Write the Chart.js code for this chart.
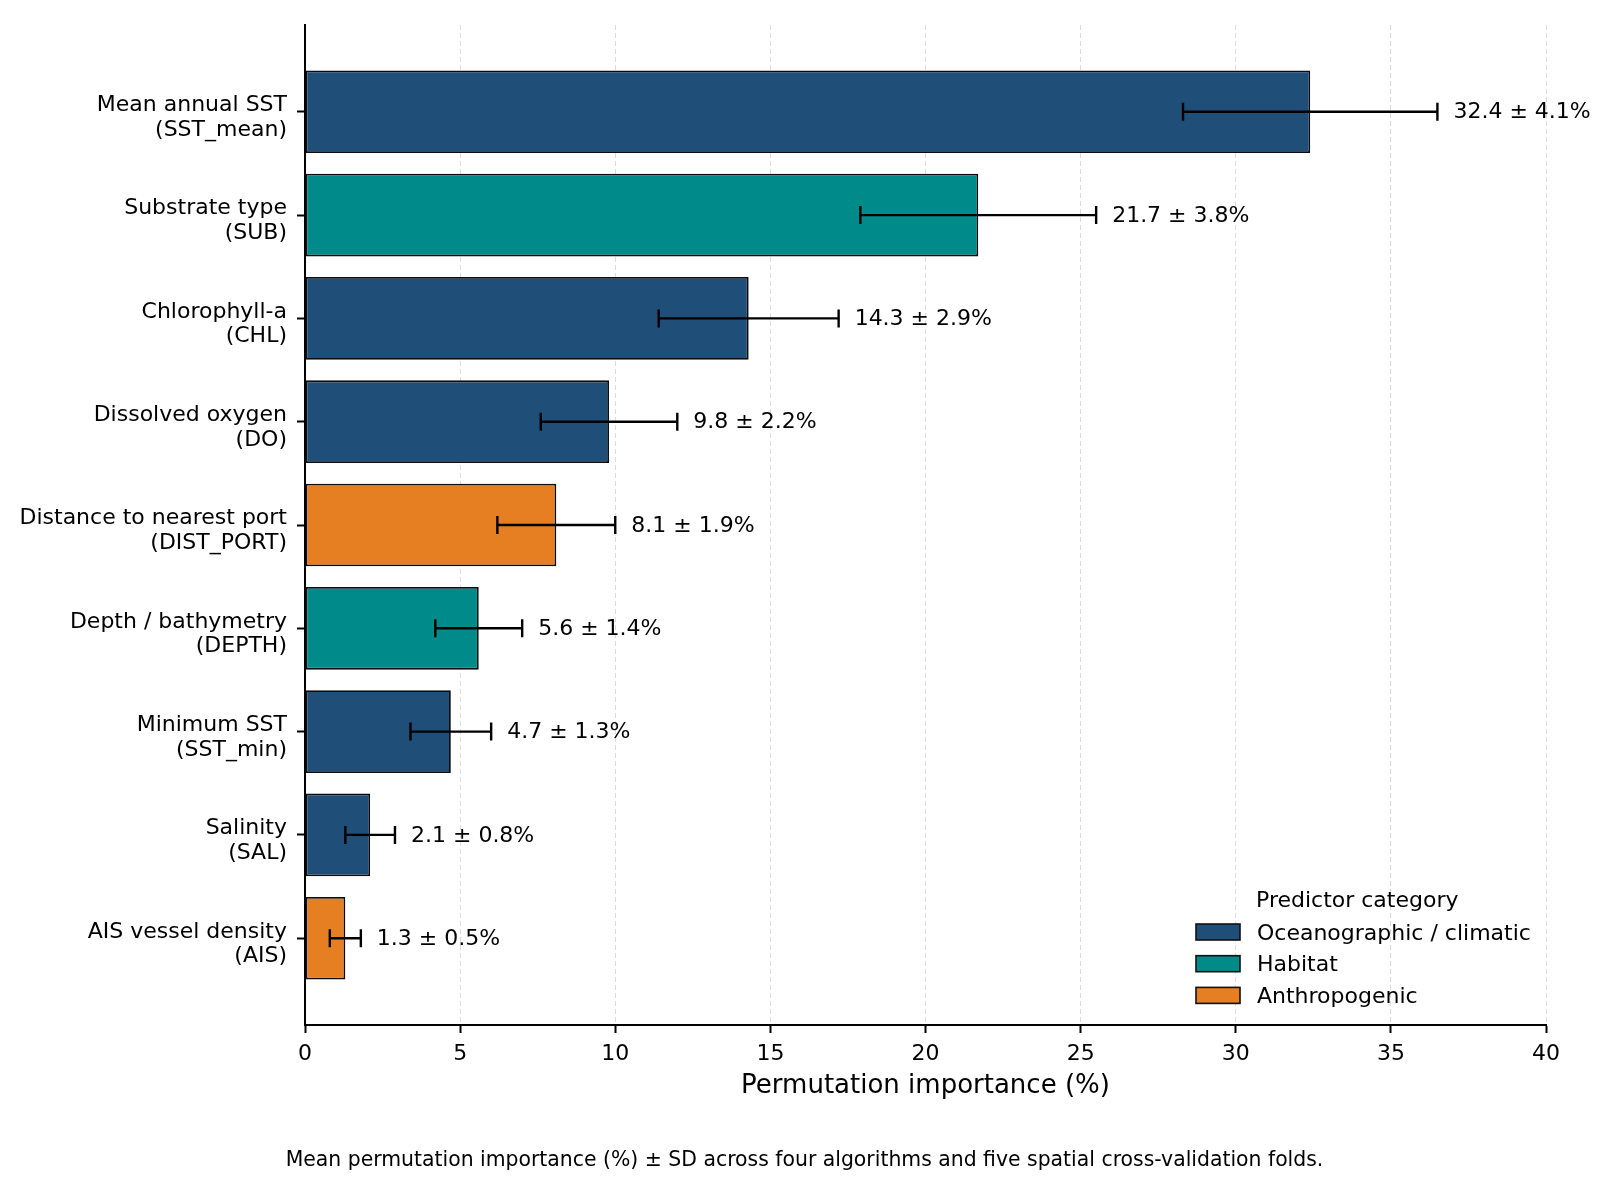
<!DOCTYPE html>
<html>
<head>
<meta charset="utf-8">
<script src="https://cdn.jsdelivr.net/npm/chart.js@4.4.1/dist/chart.umd.min.js"></script>
<style>
  html, body { margin: 0; padding: 0; background: #fff; }
  canvas { display: block; }
</style>
</head>
<body>
<canvas id="chart" width="1609" height="1186"></canvas>
<script>
const PREDICTORS = [
  'Mean annual SST', 'Substrate type', 'Chlorophyll-a', 'Dissolved oxygen',
  'Distance to nearest port', 'Depth / bathymetry', 'Minimum SST', 'Salinity', 'AIS vessel density'
];
const CODES = ['SST_mean', 'SUB', 'CHL', 'DO', 'DIST_PORT', 'DEPTH', 'SST_min', 'SAL', 'AIS'];
const IMPORTANCE = [32.4, 21.7, 14.3, 9.8, 8.1, 5.6, 4.7, 2.1, 1.3];
const SD = [4.1, 3.8, 2.9, 2.2, 1.9, 1.4, 1.3, 0.8, 0.5];
// index into CATEGORIES for each predictor
const CATEGORY = [0, 1, 0, 0, 2, 1, 0, 0, 2];
const CATEGORIES = ['Oceanographic / climatic', 'Habitat', 'Anthropogenic'];
const COLORS = ['#1f4e79', '#008b8b', '#e67e22'];
const X_TICKS = [0, 5, 10, 15, 20, 25, 30, 35, 40];
const X_TITLE = 'Permutation importance (%)';
const LEGEND_TITLE = 'Predictor category';
const CAPTION = 'Mean permutation importance (%) \u00b1 SD across four algorithms and five spatial cross-validation folds.';

const FONT = "'DejaVu Sans', sans-serif";
Chart.defaults.font.family = FONT;
Chart.defaults.color = '#000';

// error bars + "mean ± sd%" labels, drawn on top of the bars
const errorBars = {
  id: 'errorBars',
  afterDatasetsDraw(chart) {
    const { ctx, scales: { x, y } } = chart;
    ctx.save();
    ctx.strokeStyle = '#000';
    ctx.lineWidth = 2.4;
    ctx.fillStyle = '#000';
    ctx.font = `22px ${FONT}`;
    ctx.textBaseline = 'middle';
    ctx.textAlign = 'left';
    IMPORTANCE.forEach((v, i) => {
      const py = y.getPixelForValue(i);
      const x0 = x.getPixelForValue(v - SD[i]);
      const x1 = x.getPixelForValue(v + SD[i]);
      ctx.beginPath();
      ctx.moveTo(x0, py); ctx.lineTo(x1, py);
      ctx.moveTo(x0, py - 9); ctx.lineTo(x0, py + 9);
      ctx.moveTo(x1, py - 9); ctx.lineTo(x1, py + 9);
      ctx.stroke();
      ctx.fillText(`${v.toFixed(1)} \u00b1 ${SD[i].toFixed(1)}%`, x1 + 16, py + 1);
    });
    ctx.restore();
  }
};

// axis title, legend and caption
const extras = {
  id: 'extras',
  afterDraw(chart) {
    const { ctx, chartArea: a, width } = chart;
    ctx.save();
    ctx.fillStyle = '#000';
    ctx.textBaseline = 'middle';

    ctx.font = `26px ${FONT}`;
    ctx.textAlign = 'center';
    ctx.fillText(X_TITLE, (a.left + a.right) / 2, a.bottom + 61);

    ctx.font = `20.4px ${FONT}`;
    ctx.fillText(CAPTION, width / 2, a.bottom + 136);

    // legend (lower right)
    const swX = a.right - 350, txtX = swX + 61;
    ctx.font = `22px ${FONT}`;
    ctx.textAlign = 'left';
    ctx.fillText(LEGEND_TITLE, txtX - 1, a.bottom - 124);
    CATEGORIES.forEach((name, k) => {
      const cy = a.bottom - 93 + k * 31.7;
      ctx.fillStyle = COLORS[k];
      ctx.fillRect(swX, cy - 8, 44, 16);
      ctx.strokeStyle = '#111';
      ctx.lineWidth = 1.6;
      ctx.strokeRect(swX, cy - 8, 44, 16);
      ctx.fillStyle = '#000';
      ctx.fillText(name, txtX, cy + 2);
    });
    ctx.restore();
  }
};

new Chart(document.getElementById('chart'), {
  type: 'bar',
  data: {
    datasets: [{
      data: IMPORTANCE.map((v, i) => ({ x: v, y: i })),
      backgroundColor: CATEGORY.map((c) => COLORS[c]),
      borderColor: '#0d0d0d',
      borderWidth: 1.8,
      borderSkipped: false,
      categoryPercentage: 1,
      barPercentage: 0.8,
    }]
  },
  options: {
    indexAxis: 'y',
    responsive: false,
    devicePixelRatio: 1,
    animation: false,
    layout: { padding: { top: 25, right: 63, left: 0, bottom: 0 } },
    plugins: { legend: { display: false }, tooltip: { enabled: false } },
    scales: {
      x: {
        type: 'linear',
        min: 0,
        max: 40,
        offset: false,
        afterBuildTicks: (s) => { s.ticks = X_TICKS.map((v) => ({ value: v })); },
        afterFit: (s) => { s.height = 161; },
        grid: { offset: false, color: '#dcdcdc', lineWidth: 1, tickColor: '#000', tickWidth: 2, tickLength: 8 },
        border: { color: '#000', width: 2, dash: [5, 3] },
        ticks: { font: { size: 22 }, color: '#000', padding: 8, maxRotation: 0 },
      },
      y: {
        type: 'linear',
        min: -0.84,
        max: 8.84,
        reverse: true,
        offset: false,
        afterBuildTicks: (s) => { s.ticks = PREDICTORS.map((_, i) => ({ value: i })); },
        afterFit: (s) => { s.width = 305; s.paddingTop = 0; s.paddingBottom = 0; },
        grid: { offset: false, drawOnChartArea: false, tickColor: '#000', tickWidth: 2, tickLength: 8 },
        border: { color: '#000', width: 2 },
        ticks: {
          font: { size: 22, lineHeight: 1.12 },
          color: '#000',
          padding: 10,
          labelOffset: 6,
          callback: (v) => [PREDICTORS[v], `(${CODES[v]})`],
        },
      },
    },
  },
  plugins: [errorBars, extras],
});
</script>
</body>
</html>
